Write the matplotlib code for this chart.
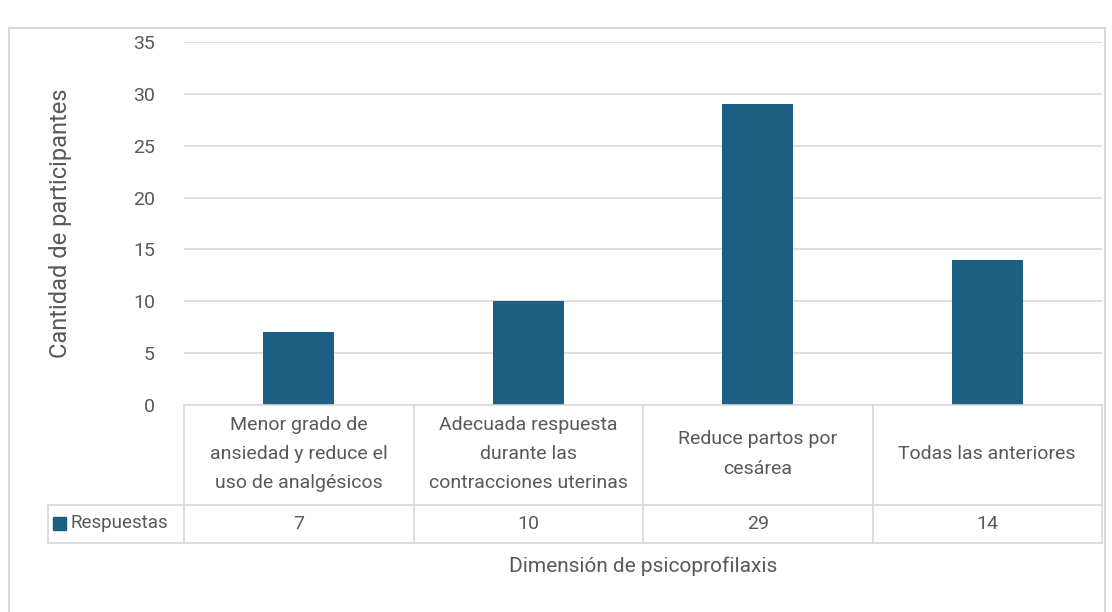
import matplotlib
matplotlib.use("Agg")
import matplotlib.pyplot as plt
from matplotlib.lines import Line2D
from matplotlib.patches import Rectangle
import matplotlib.transforms as mtransforms

categories = [
    "Menor grado de\nansiedad y reduce el\nuso de analgésicos",
    "Adecuada respuesta\ndurante las\ncontracciones uterinas",
    "Reduce partos por\ncesárea",
    "Todas las anteriores",
]
values = [7, 10, 29, 14]
series_name = "Respuestas"
yticks = [0, 5, 10, 15, 20, 25, 30, 35]

W, H = 1112, 612
BAR = "#1B5F82"
GRID = "#D9D9D9"
TXT = "#595959"
plt.rcParams["font.family"] = ["Roboto", "DejaVu Sans"]


def fx(px):
    return px / W


def fy(py):
    return 1 - py / H


fig = plt.figure(figsize=(W / 100, H / 100), dpi=100)

# outer chart border
fig.add_artist(Rectangle((fx(9), fy(640)), fx(1096), 1, fill=False,
                         edgecolor=GRID, lw=1.5, transform=fig.transFigure))

ax = fig.add_axes([fx(184), fy(405), fx(918), (405 - 42) / H])
x = list(range(len(values)))
ax.bar(x, values, width=0.31, color=BAR, zorder=3)
ax.set_xlim(-0.5, len(values) - 0.5)
ax.set_ylim(0, 35)
ax.set_yticks(yticks)
ax.set_xticks([])
ax.tick_params(axis="y", length=0, pad=21, labelsize=14, labelcolor=TXT)
ax.grid(axis="y", color=GRID, lw=1.2, zorder=0)
for s in ax.spines.values():
    s.set_visible(False)
ax.set_ylabel("Cantidad de participantes", fontsize=17, color=TXT)
ax.yaxis.set_label_coords(-0.122, 0.5)

# data table lines
def hline(y, x0, x1):
    fig.add_artist(Line2D([fx(x0), fx(x1)], [fy(y), fy(y)], color=GRID, lw=1.2,
                          transform=fig.transFigure))


def vline(xp, y0, y1):
    fig.add_artist(Line2D([fx(xp), fx(xp)], [fy(y0), fy(y1)], color=GRID, lw=1.2,
                          transform=fig.transFigure))


col_w = 918 / len(values)
hline(405, 184, 1102)
hline(505, 48, 1102)
hline(543, 48, 1102)
for i in range(len(values) + 1):
    vline(184 + i * col_w, 405, 543)
vline(48, 505, 543)

trans = mtransforms.blended_transform_factory(ax.transData, fig.transFigure)
for i, (c, v) in enumerate(zip(categories, values)):
    ax.text(i, fy(454), c, transform=trans, ha="center", va="center",
            fontsize=14, color=TXT, linespacing=1.8)
    ax.text(i, fy(524), str(v), transform=trans, ha="center", va="center",
            fontsize=14, color=TXT)

fig.add_artist(Rectangle((fx(53), fy(530)), fx(13), 13 / H, color=BAR,
                         transform=fig.transFigure))
fig.text(fx(70), fy(523), series_name, ha="left", va="center", fontsize=13.5,
         color=TXT)

fig.text(fx(643), fy(566), "Dimensión de psicoprofilaxis", ha="center", va="center",
         fontsize=15, color=TXT)

fig.savefig("out.png", dpi=100)
